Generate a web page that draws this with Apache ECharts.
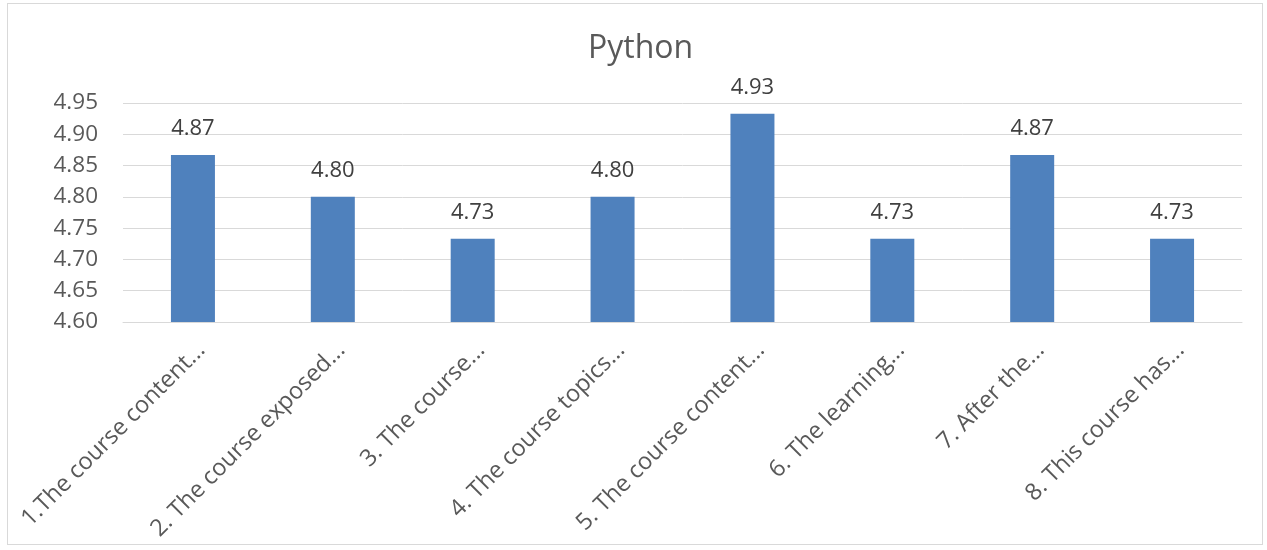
<!DOCTYPE html>
<html>
<head>
<meta charset="utf-8">
<script src="https://cdn.jsdelivr.net/npm/echarts@6/dist/echarts.min.js"></script>
<style>
    html, body { margin: 0; padding: 0; background: #fff; }
    #chart { position: absolute; left: 7px; top: 3px; width: 1256px; height: 542px; border: 1px solid #d9d9d9; box-sizing: border-box; }
</style>
</head>
<body>
<div id="chart"></div>
<script>
var categories = [
    '1.The course content...',
    '2. The course exposed...',
    '3. The course...',
    '4. The course topics...',
    '5. The course content...',
    '6. The learning...',
    '7. After the...',
    '8. This course has...'
];
var scores = [4.867, 4.800, 4.733, 4.800, 4.933, 4.733, 4.867, 4.733];
var yMin = 4.60, yMax = 4.95, yStep = 0.05;

var chart = echarts.init(document.getElementById('chart'));
var option = {
    animation: false,
    textStyle: { fontFamily: 'Open Sans' },
    title: {
        text: 'Python',
        left: 575,
        top: 24,
        textStyle: { fontFamily: 'Open Sans', fontSize: 32, fontWeight: 'normal', color: '#595959' }
    },
    grid: { left: 115, right: 20, top: 99, bottom: 222 },
    xAxis: {
        type: 'category',
        data: categories,
        axisTick: { show: false },
        axisLine: { lineStyle: { color: '#d9d9d9', width: 1 } },
        axisLabel: {
            rotate: 45,
            interval: 0,
            margin: 16,
            align: 'right',
            verticalAlign: 'top',
            fontSize: 23.5,
            color: '#595959'
        }
    },
    yAxis: {
        type: 'value',
        min: yMin,
        max: yMax,
        interval: yStep,
        axisLine: { show: false },
        axisTick: { show: false },
        splitLine: { lineStyle: { color: '#d9d9d9', width: 1 } },
        axisLabel: {
            fontSize: 22.5,
            color: '#595959',
            margin: 25,
            formatter: function (v) { return v.toFixed(2); }
        }
    },
    series: [
        {
            type: 'bar',
            data: scores,
            barWidth: 44,
            itemStyle: { color: '#4f81bd' },
            label: {
                show: true,
                position: 'top',
                distance: 15,
                fontSize: 22,
                color: '#404040',
                formatter: function (p) { return p.value.toFixed(2); }
            }
        }
    ]
};
chart.setOption(option);
window.addEventListener('resize', function () {
    chart.resize();
});
</script>
</body>
</html>
